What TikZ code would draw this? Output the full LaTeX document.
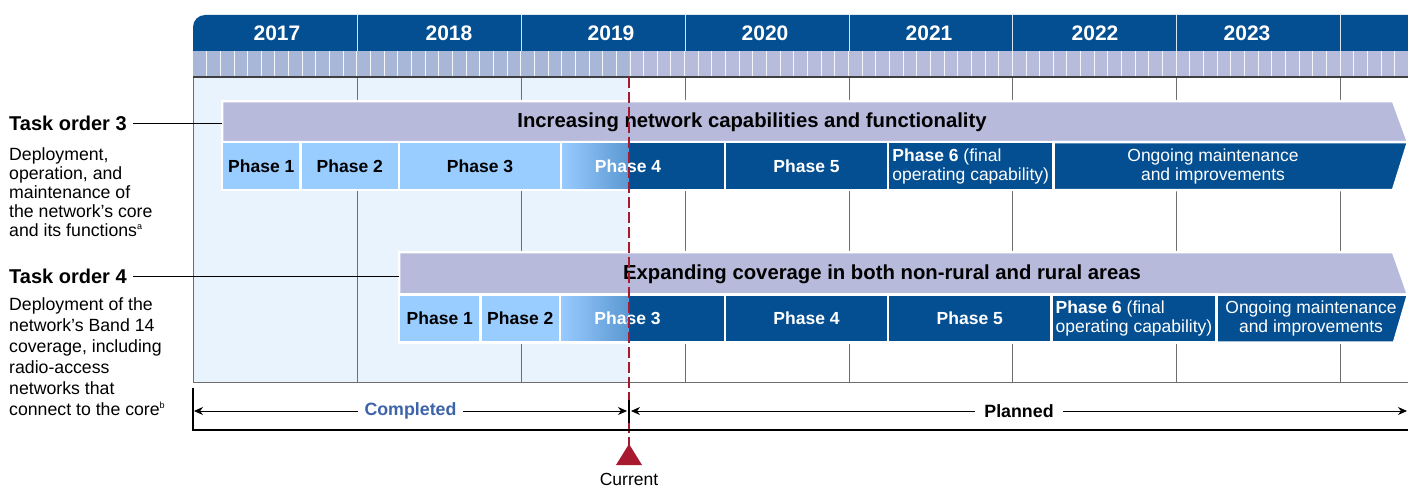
\documentclass[tikz,border=0pt]{standalone}
\usepackage{fontspec}
\setmainfont{Liberation Sans}
\usetikzlibrary{arrows.meta}

\definecolor{gaoblue}{RGB}{4,79,146}
\definecolor{bandlav}{RGB}{183,186,219}
\definecolor{monthlav}{RGB}{184,188,220}
\definecolor{monthblue}{RGB}{168,182,216}
\definecolor{phaselt}{RGB}{153,204,255}
\definecolor{donebg}{RGB}{232,243,253}
\definecolor{nowred}{RGB}{166,25,46}
\definecolor{donetxt}{RGB}{61,99,168}
\definecolor{gridgray}{RGB}{110,110,110}

\tikzset{
  yearlbl/.style={text=white, font=\fontsize{21}{21}\selectfont\bfseries},
  gridline/.style={draw=gridgray, line width=0.8pt},
  bandshape/.style={fill=bandlav, draw=white, line width=2.5pt},
  bandlbl/.style={font=\fontsize{20.3}{20}\selectfont\bfseries},
  phasebox/.style={draw=white, line width=2.5pt, inner sep=0pt, minimum height=48pt, align=center, font=\fontsize{17.5}{19}\selectfont},
  donebox/.style={phasebox, fill=phaselt, font=\fontsize{17.5}{19}\selectfont\bfseries},
  planbox/.style={phasebox, fill=gaoblue, text=white},
  nowbox/.style={planbox, path picture={\fill[left color=phaselt, right color=gaoblue] (path picture bounding box.south west) rectangle ([xshift=#1]path picture bounding box.north west);}},
  tasklbl/.style={anchor=west, inner sep=0pt, font=\fontsize{20}{20}\selectfont\bfseries},
  taskdesc/.style={anchor=north west, inner sep=0pt, align=left},
  spanarrow/.style={{Stealth[length=9pt,width=8pt]}-{Stealth[length=9pt,width=8pt]}, line width=0.8pt},
  nowline/.style={draw=nowred, line width=1.5pt, dash pattern=on 11pt off 4pt}
}

\begin{document}
\begin{tikzpicture}[x=1pt, y=-1pt]
\useasboundingbox (0,0) rectangle (1408,487);

% year header
\fill[gaoblue] (193,51) [rounded corners=12pt] -- (193,15) [sharp corners] -- (1412,15) -- (1412,51) -- cycle;
\foreach \yx in {357,521,685,849,1012,1176,1340}
  \draw[white!85!gaoblue, line width=0.8pt] (\yx,15) -- (\yx,51);
\foreach \yr/\xc in {2017/277,2018/449,2019/611,2020/765,2021/929,2022/1095,2023/1247}
  \node[yearlbl] (y\yr) at (\xc,33) {\yr};

% months
\fill[monthlav] (193,51) rectangle (1412,77);
\fill[monthblue] (193,51) rectangle (629,77);
\foreach \m in {1,...,89}
  \draw[white!85!monthlav, line width=0.9pt] ({193+\m*13.655},51) -- ({193+\m*13.655},77);

% grid
\fill[donebg] (193,77) rectangle (629,382);
\foreach \yx in {357,521,685,849,1012,1176,1340}
  \draw[gridline] (\yx,77) -- (\yx,382);
\draw[gridline] (193,77) -- (193,382) -- (1412,382);
\draw[draw=black!75, line width=1.5pt] (193,77) -- (1412,77);

% task order 3
\fill[bandshape] (222,101) -- (1393,101) -- (1408,142) -- (222,142) -- cycle;
\node[bandlbl] (t3band) at (752,122) {Increasing network capabilities and functionality};
\node[donebox, minimum width=78.5pt] (t3p1) at (261.25,166) {Phase 1};
\node[donebox, minimum width=98.5pt] (t3p2) at (349.75,166) {Phase 2};
\node[donebox, minimum width=162pt] (t3p3) at (480,166) {Phase 3};
\node[nowbox=68pt, minimum width=164pt] (t3p4) at (643,166) {\hspace*{-30pt}\textbf{Phase 4}};
\node[planbox, minimum width=163pt] (t3p5) at (806.5,166) {\textbf{Phase 5}};
\node[planbox, minimum width=165.5pt, align=left] (t3p6) at (970.75,166) {\textbf{Phase 6} (final\\operating capability)};
\fill[planbox] (1053.5,142) -- (1408,142) -- (1393,190) -- (1053.5,190) -- cycle;
\node[text=white, align=center, font=\fontsize{17.5}{19}\selectfont] (t3ongo) at (1213,166) {Ongoing maintenance\\and improvements};

% task order 4
\fill[bandshape] (399,252) -- (1393,252) -- (1408,294.5) -- (399,294.5) -- cycle;
\node[bandlbl] (t4band) at (882,274) {Expanding coverage in both non-rural and rural areas};
\node[donebox, minimum width=81.5pt] (t4p1) at (439.75,318.5) {Phase 1};
\node[donebox, minimum width=79.5pt] (t4p2) at (520.25,318.5) {Phase 2};
\node[nowbox=69pt, minimum width=165pt] (t4p3) at (642.5,318.5) {\hspace*{-30pt}\textbf{Phase 3}};
\node[planbox, minimum width=163pt] (t4p4) at (806.5,318.5) {\textbf{Phase 4}};
\node[planbox, minimum width=163.5pt] (t4p5) at (969.75,318.5) {\textbf{Phase 5}};
\node[planbox, minimum width=165pt, align=left] (t4p6) at (1134,318.5) {\textbf{Phase 6} (final\\operating capability)};
\fill[planbox] (1216.5,294.5) -- (1408,294.5) -- (1394,342.5) -- (1216.5,342.5) -- cycle;
\node[text=white, align=center, font=\fontsize{17.5}{19}\selectfont] (t4ongo) at (1311,318.5) {Ongoing maintenance\\and improvements};

% left labels
\node[tasklbl] (to3) at (9,123) {Task order 3};
\coordinate (b3left) at (222,123);
\draw[line width=0.8pt] ([xshift=6pt]to3.east) -- (b3left);
\node[taskdesc, font=\fontsize{17.7}{19}\selectfont] (to3txt) at (9,147) {Deployment,\\operation, and\\maintenance of\\the network’s core\\and its functions\textsuperscript{\fontsize{9}{9}\selectfont a}};

\node[tasklbl] (to4) at (9,276) {Task order 4};
\coordinate (b4left) at (399,276);
\draw[line width=0.8pt] ([xshift=6pt]to4.east) -- (b4left);
\node[taskdesc, font=\fontsize{17.7}{21}\selectfont] (to4txt) at (9,297) {Deployment of the\\network’s Band 14\\coverage, including\\radio-access\\networks that\\connect to the core\textsuperscript{\fontsize{9}{9}\selectfont b}};

% current date
\draw[nowline] (629,77) -- (629,445);

% completed / planned
\coordinate (spanL) at (194,411);
\coordinate (spanM) at (629,411);
\coordinate (spanR) at (1407,411);
\draw[spanarrow] (spanL) -- node[fill=white, inner xsep=7pt, text=donetxt, font=\fontsize{17.8}{18}\selectfont\bfseries] (donelbl) {Completed} ([xshift=-2pt]spanM);
\draw[spanarrow] ([xshift=2pt]spanM) -- node[fill=white, inner xsep=9pt, font=\fontsize{17.8}{18}\selectfont\bfseries] (planlbl) {Planned} (spanR);
\draw[line width=2pt] (629,400) -- (629,423);
\draw[line width=2.5pt] (193,388) -- (193,430) -- (1412,430);

\fill[nowred] (629,444) -- (642,465) -- (616,465) -- cycle;
\node[inner sep=0pt, anchor=base, font=\fontsize{17.5}{18}\selectfont] (nowlbl) at (629,485) {Current};
\end{tikzpicture}
\end{document}
